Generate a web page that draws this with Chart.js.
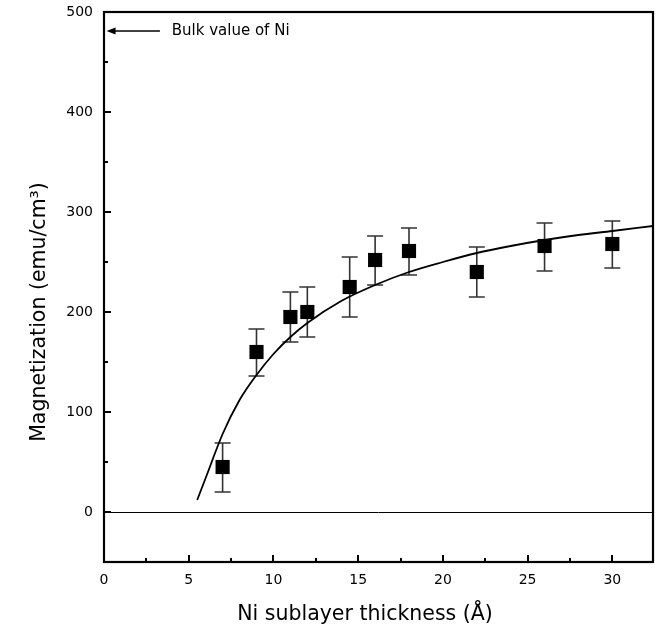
<!DOCTYPE html>
<html>
<head>
<meta charset="utf-8">
<script src="https://cdn.jsdelivr.net/npm/chart.js@4/dist/chart.umd.min.js"></script>
<style>
  html, body { margin: 0; padding: 0; background: #fff; }
  canvas { display: block; }
</style>
</head>
<body>
<canvas id="c" width="656" height="628"></canvas>
<script>
// ---- data ----
const thickness     = [7, 9, 11, 12, 14.5, 16, 18, 22, 26, 30];
const magnetization = [45, 160, 195, 200, 225, 252, 261, 240, 266, 268];
const errLow        = [20, 136, 170, 175, 195, 227, 237, 215, 241, 244];
const errHigh       = [69, 183, 220, 225, 255, 276, 284, 265, 289, 291];

const fitX = [5.5, 6, 7, 8, 9, 10, 11, 12, 14, 16, 18, 20, 22, 24, 26, 28, 30, 32.4];
const fitY = [12, 34, 78, 112, 137, 158, 175, 189, 211, 227, 240, 250, 259, 266, 272, 277, 281, 286];

const xTicks = [0, 5, 10, 15, 20, 25, 30];
const yTicks = [0, 100, 200, 300, 400, 500];

const bulkLabel = 'Bulk value of Ni';
const bulkValue = 481;
const xTitle = 'Ni sublayer thickness (Å)';
const yTitle = 'Magnetization (emu/cm³)';

const FONT = '"DejaVu Sans", "Liberation Sans", Arial, sans-serif';

function matchTick(v, list) {
  for (const t of list) if (Math.abs(v - t) < 1e-6) return String(t);
  return '';
}

const framePlugin = {
  id: 'frame',
  beforeDatasetsDraw(chart) {
    const ctx = chart.ctx, xs = chart.scales.x, ys = chart.scales.y;
    const a = chart.chartArea;
    ctx.save();
    // zero line
    ctx.strokeStyle = '#000';
    ctx.lineWidth = 1;
    const zy = Math.round(ys.getPixelForValue(0)) + 0.5;
    ctx.beginPath();
    ctx.moveTo(a.left, zy);
    ctx.lineTo(a.right, zy);
    ctx.stroke();
    // error bars
    ctx.strokeStyle = '#333';
    ctx.lineWidth = 1.6;
    for (let i = 0; i < thickness.length; i++) {
      const px = xs.getPixelForValue(thickness[i]);
      const y1 = ys.getPixelForValue(errLow[i]);
      const y2 = ys.getPixelForValue(errHigh[i]);
      ctx.beginPath();
      ctx.moveTo(px, y1); ctx.lineTo(px, y2);
      ctx.moveTo(px - 8, y1); ctx.lineTo(px + 8, y1);
      ctx.moveTo(px - 8, y2); ctx.lineTo(px + 8, y2);
      ctx.stroke();
    }
    ctx.restore();
  },
  afterDraw(chart) {
    const ctx = chart.ctx, xs = chart.scales.x, ys = chart.scales.y;
    const a = chart.chartArea;
    ctx.save();
    ctx.strokeStyle = '#000';
    // inner tick marks
    ctx.lineWidth = 2;
    for (let k = 1; k < 11; k++) {
      const v = -50 + k * 50;
      const py = Math.round(ys.getPixelForValue(v));
      const len = (k % 2 === 1) ? 7 : 4;
      ctx.beginPath();
      ctx.moveTo(a.left, py); ctx.lineTo(a.left + len, py);
      ctx.stroke();
    }
    for (let k = 1; k <= 12; k++) {
      const v = k * 2.5;
      const px = Math.round(xs.getPixelForValue(v));
      const len = (k % 2 === 0) ? 7 : 4;
      ctx.beginPath();
      ctx.moveTo(px, a.bottom); ctx.lineTo(px, a.bottom - len);
      ctx.stroke();
    }
    // frame
    ctx.lineWidth = 2.2;
    ctx.strokeRect(a.left, a.top, a.right - a.left, a.bottom - a.top);

    // bulk value arrow + label
    const ay = ys.getPixelForValue(bulkValue);
    const tipX = xs.getPixelForValue(0.15);
    const tailX = xs.getPixelForValue(3.3);
    ctx.lineWidth = 1.6;
    ctx.beginPath();
    ctx.moveTo(tipX + 6, ay); ctx.lineTo(tailX, ay);
    ctx.stroke();
    ctx.fillStyle = '#000';
    ctx.beginPath();
    ctx.moveTo(tipX, ay);
    ctx.lineTo(tipX + 9, ay - 3.5);
    ctx.lineTo(tipX + 9, ay + 3.5);
    ctx.closePath();
    ctx.fill();
    ctx.font = '15px ' + FONT;
    ctx.textAlign = 'left';
    ctx.textBaseline = 'middle';
    ctx.fillText(bulkLabel, xs.getPixelForValue(4.0), ay);

    // axis titles
    ctx.font = '20.5px ' + FONT;
    ctx.textAlign = 'center';
    ctx.textBaseline = 'alphabetic';
    ctx.fillText(xTitle, a.left + 261, 620);
    ctx.translate(45, 312);
    ctx.rotate(-Math.PI / 2);
    ctx.fillText(yTitle, 0, 0);
    ctx.restore();
  }
};

new Chart(document.getElementById('c'), {
  data: {
    datasets: [
      {
        type: 'line',
        label: 'fit',
        data: fitX.map((x, i) => ({ x, y: fitY[i] })),
        borderColor: '#000',
        borderWidth: 1.8,
        pointRadius: 0,
        cubicInterpolationMode: 'monotone',
        fill: false
      },
      {
        type: 'scatter',
        label: 'data',
        data: thickness.map((x, i) => ({ x, y: magnetization[i] })),
        pointStyle: 'rect',
        pointRadius: 10,
        pointHoverRadius: 10,
        backgroundColor: '#000',
        borderColor: '#000',
        borderWidth: 0
      }
    ]
  },
  options: {
    responsive: false,
    animation: false,
    devicePixelRatio: 1,
    layout: { autoPadding: false, padding: { left: 0, top: 12, right: 3, bottom: 0 } },
    plugins: { legend: { display: false }, tooltip: { enabled: false } },
    scales: {
      x: {
        type: 'linear',
        min: 0, max: 32.4,
        grid: { display: false, drawTicks: false },
        border: { display: false },
        afterFit(scale) { scale.height = 66; scale.paddingLeft = 0; scale.paddingRight = 0; },
        ticks: {
          stepSize: 2.5,
          includeBounds: false,
          autoSkip: false,
          maxRotation: 0,
          padding: 10,
          color: '#000',
          font: { family: FONT, size: 14 },
          callback: (v) => matchTick(v, xTicks)
        }
      },
      y: {
        type: 'linear',
        min: -50, max: 500,
        grid: { display: false, drawTicks: false },
        border: { display: false },
        afterFit(scale) { scale.width = 104; scale.paddingTop = 0; scale.paddingBottom = 0; },
        ticks: {
          stepSize: 50,
          autoSkip: false,
          padding: 11,
          color: '#000',
          font: { family: FONT, size: 14 },
          callback: (v) => matchTick(v, yTicks)
        }
      }
    }
  },
  plugins: [framePlugin]
});
</script>
</body>
</html>
